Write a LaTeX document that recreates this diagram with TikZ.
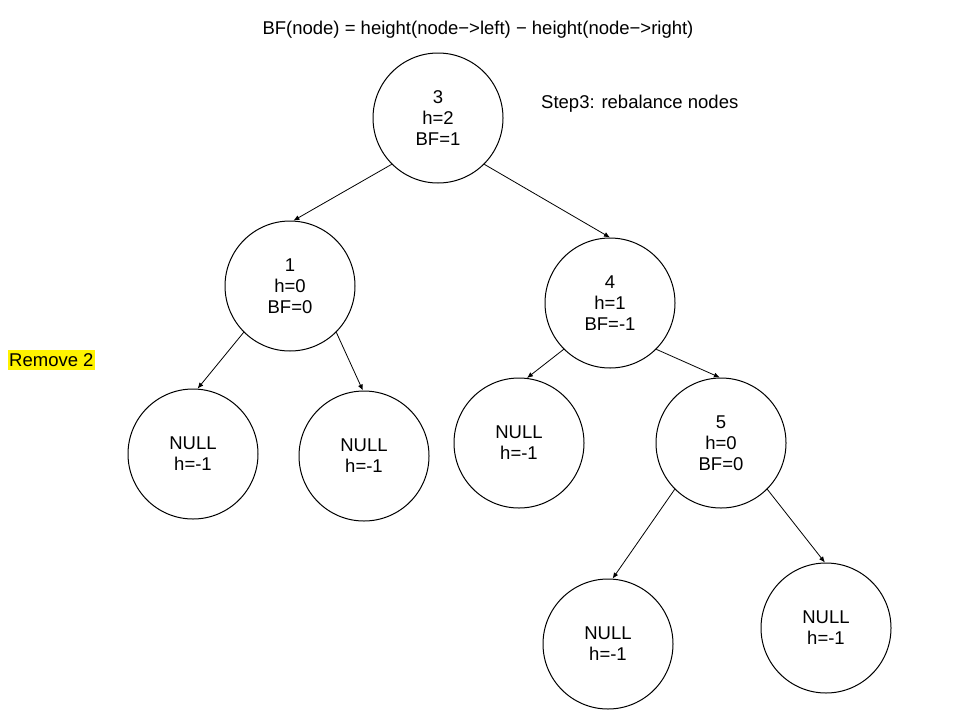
\documentclass[tikz,border=0pt]{standalone}
\usepackage{fontspec}
\setmainfont{Liberation Sans}
\usetikzlibrary{arrows.meta}
\begin{document}
\begin{tikzpicture}[x=1pt,y=-1pt,
  tnode/.style={circle,draw,line width=1pt,minimum size=130pt,inner sep=0pt,align=center,font=\fontsize{18.5}{21}\selectfont},
  edge/.style={line width=0.8pt,-{Latex[length=6pt,width=5pt]}},
  lbl/.style={font=\fontsize{18.5}{21}\selectfont,inner sep=0pt}]
\useasboundingbox (0,0) rectangle (960,720);
\node[lbl] (title) at (478,30) {BF(node) = height(node−>left) − height(node−>right)};
\node[lbl,anchor=west] (step) at (541,104) {Step3: rebalance nodes};
\node[lbl,fill=yellow,inner xsep=1pt,inner ysep=3pt,anchor=west] (rem) at (8,360) {Remove 2};
\node[tnode] (n3) at (438,118) {3\\h=2\\BF=1};
\node[tnode] (n1) at (290,286) {1\\h=0\\BF=0};
\node[tnode] (n4) at (610,303) {4\\h=1\\BF=-1};
\node[tnode] (nll) at (193,454) {NULL\\h=-1};
\node[tnode] (nlr) at (364,456) {NULL\\h=-1};
\node[tnode] (n4l) at (519,443) {NULL\\h=-1};
\node[tnode] (n5) at (721,443) {5\\h=0\\BF=0};
\node[tnode] (n5l) at (608,644) {NULL\\h=-1};
\node[tnode] (n5r) at (826,628) {NULL\\h=-1};
\draw[edge] (n3.225) -- (n1.87);
\draw[edge] (n3.315) -- (n4.90);
\draw[edge] (n1.225) -- (nll.86);
\draw[edge] (n1.315) -- (nlr.91);
\draw[edge] (n4.225) -- (n4l.83);
\draw[edge] (n4.315) -- (n5.91);
\draw[edge] (n5.225) -- (n5l.86);
\draw[edge] (n5.315) -- (n5r.91);
\end{tikzpicture}
\end{document}
